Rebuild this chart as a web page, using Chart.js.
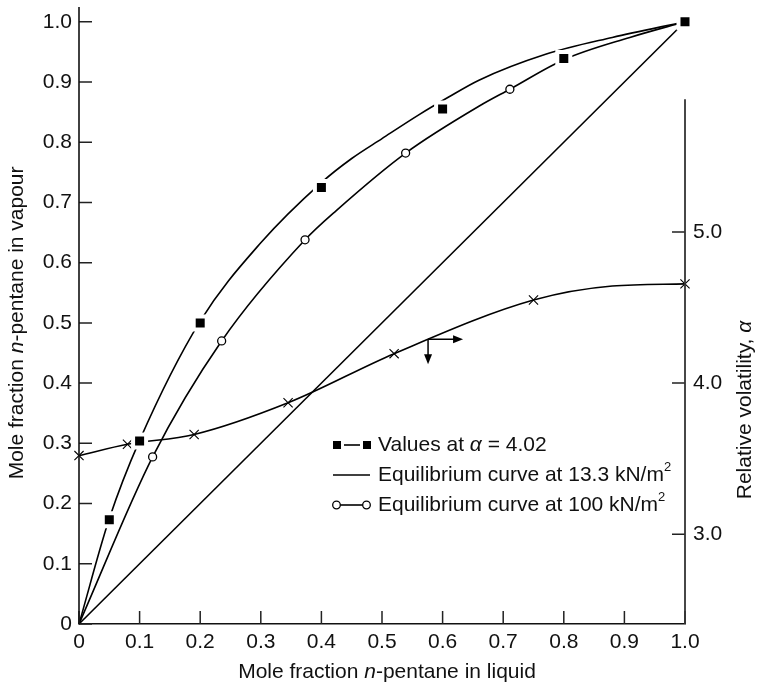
<!DOCTYPE html>
<html>
<head>
<meta charset="utf-8">
<script src="https://cdn.jsdelivr.net/npm/chart.js@4.4.1/dist/chart.umd.min.js"></script>
<style>
  html, body { margin: 0; padding: 0; background: #fff; }
  #wrap { width: 757px; height: 687px; }
</style>
</head>
<body>
<div id="wrap"><canvas id="mycanvas" width="757" height="687"></canvas></div>
<script>
// axis ticks
var xTicks = [0, 0.1, 0.2, 0.3, 0.4, 0.5, 0.6, 0.7, 0.8, 0.9, 1.0];
var xTickLabels = ["0", "0.1", "0.2", "0.3", "0.4", "0.5", "0.6", "0.7", "0.8", "0.9", "1.0"];
var yTicks = [0, 0.1, 0.2, 0.3, 0.4, 0.5, 0.6, 0.7, 0.8, 0.9, 1.0];
var yTickLabels = ["0", "0.1", "0.2", "0.3", "0.4", "0.5", "0.6", "0.7", "0.8", "0.9", "1.0"];
var alphaTicks = [3.0, 4.0, 5.0];
var alphaTickLabels = ["3.0", "4.0", "5.0"];

// values at alpha = 4.02 (filled squares)
var valuesX = [0.05, 0.1, 0.2, 0.4, 0.6, 0.8, 1.0];
var valuesY = [0.173, 0.304, 0.5, 0.725, 0.855, 0.939, 1.0];

// equilibrium curve at 13.3 kN/m2
var lowX = [0, 0.05, 0.1, 0.2, 0.3, 0.4, 0.45, 0.5, 0.56, 0.61, 0.66, 0.77, 0.88, 1.0];
var lowY = [0, 0.175, 0.305, 0.503, 0.633, 0.733, 0.773, 0.806, 0.845, 0.875, 0.903, 0.946, 0.974, 1.0];

// equilibrium curve at 100 kN/m2
var highX = [0, 0.1215, 0.2354, 0.373, 0.425, 0.539, 0.662, 0.711, 0.8, 0.909, 1.0];
var highY = [0, 0.2775, 0.470, 0.638, 0.687, 0.782, 0.861, 0.888, 0.937, 0.974, 1.0];
var highMarkX = [0.1215, 0.2354, 0.373, 0.539, 0.711];
var highMarkY = [0.2775, 0.470, 0.638, 0.782, 0.888];

// y = x line
var diagX = [0, 1.0];
var diagY = [0, 1.0];

// relative volatility (right axis)
var alphaX = [0, 0.08, 0.19, 0.345, 0.52, 0.75, 0.88, 1.0];
var alphaY = [3.52, 3.595, 3.66, 3.87, 4.195, 4.55, 4.643, 4.657];
var alphaMarkX = [0, 0.08, 0.19, 0.345, 0.52, 0.75, 1.0];
var alphaMarkY = [3.52, 3.595, 3.66, 3.87, 4.195, 4.55, 4.657];

var FONT = "'Liberation Sans', Arial, Helvetica, sans-serif";

function pts(xs, ys) {
  var out = [];
  for (var i in xs) out.push({x: xs[i], y: ys[i]});
  return out;
}

function fontFor(style) {
  if (style == "i") return "italic 21px " + FONT;
  if (style == "sup") return "13px " + FONT;
  return "21px " + FONT;
}

function runsWidth(ctx, runs) {
  var w = 0;
  for (var i = 0; i < runs.length; i++) {
    ctx.font = fontFor(runs[i][1]);
    w += ctx.measureText(runs[i][0]).width;
  }
  return w;
}

function drawRuns(ctx, runs, x, y) {
  ctx.textBaseline = "middle";
  ctx.textAlign = "left";
  for (var i = 0; i < runs.length; i++) {
    ctx.font = fontFor(runs[i][1]);
    ctx.fillText(runs[i][0], x, runs[i][1] == "sup" ? y - 8 : y);
    x += ctx.measureText(runs[i][0]).width;
  }
}

function arrowHead(ctx, x, y, dx, dy) {
  // tip at x,y pointing along dx,dy
  var len = 10, half = 4;
  ctx.beginPath();
  ctx.moveTo(x, y);
  ctx.lineTo(x - dx * len - dy * half, y - dy * len + dx * half);
  ctx.lineTo(x - dx * len + dy * half, y - dy * len - dx * half);
  ctx.closePath();
  ctx.fill();
}

var decor = {
  id: "decor",
  afterDraw: function(chart) {
    var ctx = chart.ctx;
    var xs = chart.scales.x, ys = chart.scales.y, as = chart.scales.y2;
    var area = chart.chartArea;
    ctx.save();
    ctx.strokeStyle = "#222";
    ctx.fillStyle = "#000";
    ctx.lineWidth = 1.5;

    // inward tick marks
    ctx.beginPath();
    xTicks.forEach(function(v) {
      var p = xs.getPixelForValue(v);
      ctx.moveTo(p, area.bottom); ctx.lineTo(p, area.bottom - 13);
    });
    yTicks.forEach(function(v) {
      var p = ys.getPixelForValue(v);
      ctx.moveTo(area.left, p); ctx.lineTo(area.left + 13, p);
    });
    alphaTicks.forEach(function(v) {
      var p = as.getPixelForValue(v);
      ctx.moveTo(area.right, p); ctx.lineTo(area.right - 13, p);
    });
    ctx.stroke();

    // left axis runs a little above the plot top
    ctx.beginPath();
    ctx.strokeStyle = "#111";
    ctx.lineWidth = 1.6;
    ctx.moveTo(area.left, area.bottom);
    ctx.lineTo(area.left, 7);
    ctx.stroke();

    // right axis line, only over the volatility range
    ctx.beginPath();
    ctx.strokeStyle = "#333";
    ctx.lineWidth = 1.8;
    ctx.moveTo(area.right, area.bottom);
    ctx.lineTo(area.right, as.getPixelForValue(5.88));
    ctx.stroke();

    // arrows pointing to right axis
    var cx = xs.getPixelForValue(0.576), cy = as.getPixelForValue(4.29);
    ctx.strokeStyle = "#000";
    ctx.lineWidth = 1.5;
    ctx.beginPath();
    ctx.moveTo(cx, cy); ctx.lineTo(cx, cy + 20);
    ctx.moveTo(cx, cy); ctx.lineTo(cx + 30, cy);
    ctx.stroke();
    arrowHead(ctx, cx, cy + 25, 0, 1);
    arrowHead(ctx, cx + 35, cy, 1, 0);

    ctx.fillStyle = "#111";
    // axis titles
    var t1 = [["Mole fraction ", ""], ["n", "i"], ["-pentane in liquid", ""]];
    drawRuns(ctx, t1, 387 - runsWidth(ctx, t1) / 2, 672);

    var t2 = [["Mole fraction ", ""], ["n", "i"], ["-pentane in vapour", ""]];
    ctx.save();
    ctx.translate(17, ys.getPixelForValue(0.5));
    ctx.rotate(-Math.PI / 2);
    drawRuns(ctx, t2, -runsWidth(ctx, t2) / 2, 0);
    ctx.restore();

    var t3 = [["Relative volatility, ", ""], ["\u03b1", "i"]];
    ctx.save();
    ctx.translate(745, 410);
    ctx.rotate(-Math.PI / 2);
    drawRuns(ctx, t3, -runsWidth(ctx, t3) / 2, 0);
    ctx.restore();

    // legend
    var lx = 333, ly = 445, gap = 30;
    ctx.strokeStyle = "#000";
    ctx.lineWidth = 1.6;
    ctx.fillStyle = "#000";
    ctx.fillRect(lx, ly - 4, 8, 8);
    ctx.fillRect(lx + 30, ly - 4, 8, 8);
    ctx.beginPath(); ctx.moveTo(lx + 11, ly); ctx.lineTo(lx + 27, ly); ctx.stroke();

    ctx.beginPath(); ctx.moveTo(lx, ly + gap); ctx.lineTo(lx + 37, ly + gap); ctx.stroke();

    ctx.beginPath(); ctx.moveTo(lx + 3, ly + 2 * gap); ctx.lineTo(lx + 34, ly + 2 * gap); ctx.stroke();
    ctx.fillStyle = "#fff";
    ctx.lineWidth = 1.3;
    [lx + 3.5, lx + 33.5].forEach(function(cxl) {
      ctx.beginPath(); ctx.arc(cxl, ly + 2 * gap, 3.8, 0, Math.PI * 2); ctx.fill(); ctx.stroke();
    });

    ctx.fillStyle = "#111";
    drawRuns(ctx, [["Values at ", ""], ["\u03b1", "i"], [" = 4.02", ""]], lx + 45, ly);
    drawRuns(ctx, [["Equilibrium curve at 13.3 kN/m", ""], ["2", "sup"]], lx + 45, ly + gap);
    drawRuns(ctx, [["Equilibrium curve at 100 kN/m", ""], ["2", "sup"]], lx + 45, ly + 2 * gap);
    ctx.restore();
  }
};

function setTicks(values) {
  return function(scale) {
    scale.ticks = values.map(function(v) { return {value: v}; });
  };
}

function labelFrom(values, labels) {
  return function(value) {
    var i = values.indexOf(value);
    return i < 0 ? "" : labels[i];
  };
}

function fixWidth(w) {
  return function(s) { s.width = w; s.paddingTop = 0; s.paddingBottom = 0; };
}

var lineStyle = {
  showLine: true, pointRadius: 0, borderColor: "#000", borderWidth: 1.6,
  fill: false, cubicInterpolationMode: "monotone", clip: false
};

var ctx = document.getElementById("mycanvas");
var chart = new Chart(ctx, {
  type: "scatter",
  data: {
    datasets: [
      {label: "Values at alpha = 4.02", data: pts(valuesX, valuesY), showLine: false,
       pointStyle: "rect", pointRadius: 9.2, backgroundColor: "#000",
       borderColor: "#fff", borderWidth: 4, clip: false},
      {label: "100 kN/m2 points", data: pts(highMarkX, highMarkY), showLine: false,
       pointStyle: "circle", pointRadius: 4, backgroundColor: "#fff",
       borderColor: "#000", borderWidth: 1.3, clip: false},
      {label: "alpha points", data: pts(alphaMarkX, alphaMarkY), yAxisID: "y2", showLine: false,
       pointStyle: "crossRot", pointRadius: 6.5, borderColor: "#000", borderWidth: 1.1, clip: false},
      Object.assign({label: "Equilibrium curve at 13.3 kN/m2", data: pts(lowX, lowY)}, lineStyle),
      Object.assign({label: "Equilibrium curve at 100 kN/m2", data: pts(highX, highY)}, lineStyle),
      Object.assign({label: "y = x", data: pts(diagX, diagY)}, lineStyle, {cubicInterpolationMode: "default", tension: 0}),
      Object.assign({label: "Relative volatility", data: pts(alphaX, alphaY), yAxisID: "y2"}, lineStyle)
    ]
  },
  options: {
    responsive: false,
    animation: false,
    events: [],
    layout: {padding: 0},
    plugins: {legend: {display: false}, tooltip: {enabled: false}},
    scales: {
      x: {
        type: "linear", position: "bottom", min: 0, max: 1.0,
        grid: {display: false, drawTicks: false},
        border: {display: true, color: "#111", width: 1.6},
        ticks: {padding: 6, color: "#111", font: {family: FONT, size: 21}, maxRotation: 0, autoSkip: false,
                callback: labelFrom(xTicks, xTickLabels)},
        afterBuildTicks: setTicks(xTicks),
        afterFit: function(s) { s.height = 63; }
      },
      y: {
        type: "linear", position: "left", min: 0, max: 1.01425,
        grid: {display: false, drawTicks: false},
        border: {display: false},
        ticks: {padding: 7, color: "#111", font: {family: FONT, size: 21}, autoSkip: false,
                callback: labelFrom(yTicks, yTickLabels)},
        afterBuildTicks: setTicks(yTicks),
        afterFit: fixWidth(79)
      },
      y2: {
        type: "linear", position: "right", min: 2.405, max: 6.449,
        grid: {display: false, drawTicks: false},
        border: {display: false},
        ticks: {padding: 8, color: "#111", font: {family: FONT, size: 21}, autoSkip: false,
                callback: labelFrom(alphaTicks, alphaTickLabels)},
        afterBuildTicks: setTicks(alphaTicks),
        afterFit: fixWidth(72)
      }
    }
  },
  plugins: [decor]
});
</script>
</body>
</html>
